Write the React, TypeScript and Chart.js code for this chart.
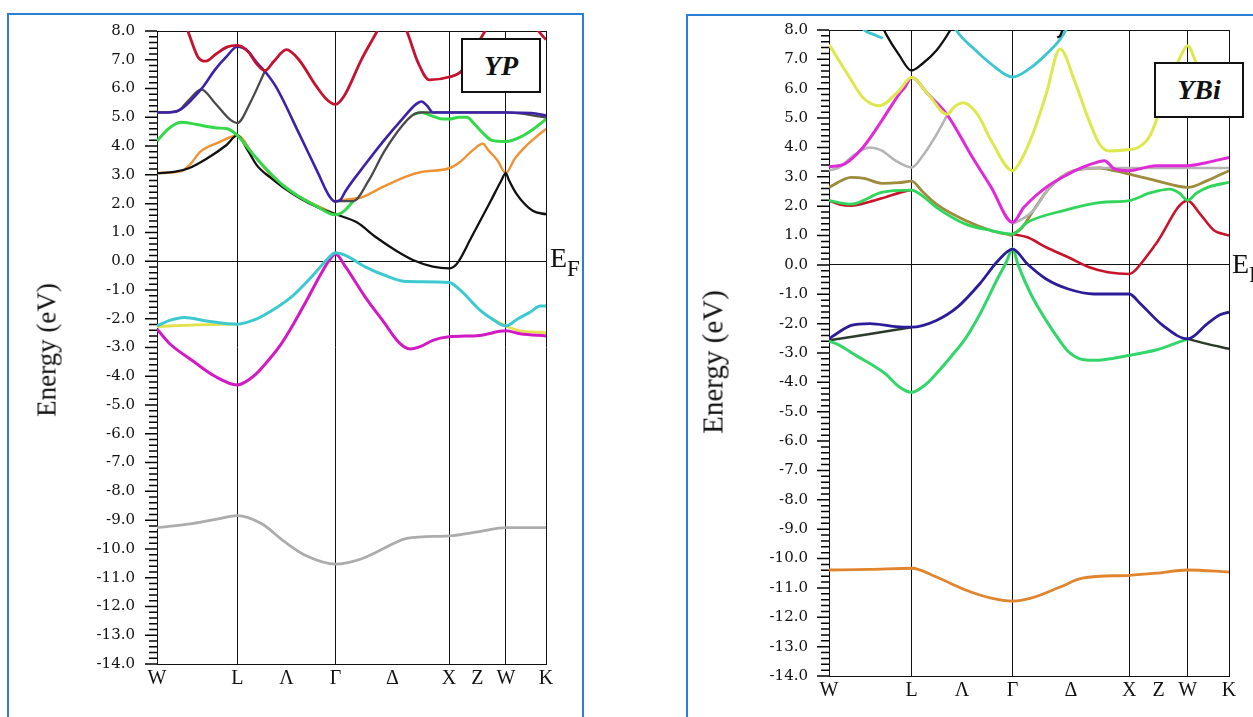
import React, { useEffect, useRef } from "react";
import { Chart, registerables } from "chart.js";

Chart.register(...registerables);

type Pt = [number, number];

// High-symmetry path of the fcc Brillouin zone (distance in 2π/a units)
const PATH_K = [0, 0.707, 1.14, 1.573, 2.073, 2.573, 2.823, 3.073, 3.427];
const PATH_LABELS = ["W", "L", "Λ", "Γ", "Δ", "X", "Z", "W", "K"];
const PATH_LINES = [0.707, 1.573, 2.573, 3.073, 3.427];
const K_MAX = 3.427;
const E_MIN = -14;
const E_MAX = 8;
// minor ticks every 0.2 eV, labelled at whole eV
const E_TICKS: number[] = [];
for (let i = E_MIN * 5; i <= E_MAX * 5; i++) E_TICKS.push(i / 5);

// ---------- YP bands (k, E in eV) ----------
const YP_LGRAY: Pt[] = [[0, -9.26], [0.31, -9.12], [0.55, -8.95], [0.707, -8.84], [0.92, -9.12], [1.12, -9.74], [1.32, -10.25], [1.573, -10.53], [1.79, -10.36], [2.0, -9.98], [2.2, -9.63], [2.573, -9.55], [2.84, -9.4], [3.073, -9.26], [3.427, -9.26]];
const YP_MAGENTA: Pt[] = [[0, -2.36], [0.11, -2.86], [0.31, -3.45], [0.51, -4.0], [0.707, -4.3], [0.85, -4.0], [0.98, -3.45], [1.09, -2.9], [1.2, -2.2], [1.32, -1.35], [1.45, -0.4], [1.53, 0.1], [1.573, 0.25], [1.66, -0.19], [1.83, -1.22], [2.0, -2.13], [2.13, -2.82], [2.23, -3.05], [2.33, -2.95], [2.43, -2.75], [2.573, -2.63], [2.84, -2.58], [3.073, -2.42], [3.2, -2.52], [3.427, -2.6]];
const YP_YELLOW_A: Pt[] = [[0, -2.27], [0.3, -2.22], [0.707, -2.19]];
const YP_YELLOW_B: Pt[] = [[2.95, -2.0], [3.073, -2.25], [3.2, -2.42], [3.3, -2.46], [3.427, -2.48]];
const YP_CYAN: Pt[] = [[0, -2.25], [0.12, -2.05], [0.24, -1.96], [0.44, -2.08], [0.707, -2.19], [0.85, -2.05], [0.98, -1.79], [1.19, -1.22], [1.39, -0.42], [1.52, 0.15], [1.573, 0.29], [1.66, 0.2], [1.83, -0.19], [2.0, -0.48], [2.2, -0.71], [2.573, -0.74], [2.67, -1.0], [2.84, -1.68], [2.95, -2.0], [3.073, -2.25], [3.18, -2.0], [3.28, -1.79], [3.38, -1.56], [3.427, -1.56]];
const YP_BLACK: Pt[] = [[0, 3.06], [0.15, 3.1], [0.28, 3.23], [0.44, 3.57], [0.61, 4.03], [0.707, 4.37], [0.8, 3.85], [0.88, 3.33], [1.0, 2.9], [1.11, 2.57], [1.26, 2.19], [1.4, 1.9], [1.573, 1.63], [1.76, 1.35], [1.93, 0.83], [2.1, 0.38], [2.26, 0.03], [2.43, -0.19], [2.573, -0.25], [2.64, -0.1], [2.77, 0.83], [2.94, 2.09], [3.03, 2.78], [3.073, 3.06], [3.1, 2.82], [3.17, 2.32], [3.31, 1.75], [3.427, 1.63]];
const YP_ORANGE_A: Pt[] = [[0, 3.06], [0.21, 3.12], [0.3, 3.4], [0.38, 3.8], [0.55, 4.14], [0.707, 4.37], [0.85, 3.7], [1.0, 3.0], [1.15, 2.5], [1.3, 2.15], [1.45, 1.85], [1.573, 1.63]];
const YP_ORANGE_B: Pt[] = [[1.573, 2.09], [1.73, 2.17], [1.79, 2.2], [2.0, 2.6], [2.2, 2.95], [2.33, 3.1], [2.573, 3.23], [2.67, 3.45], [2.78, 3.85], [2.87, 4.08], [2.92, 3.85], [3.0, 3.5], [3.073, 3.06], [3.15, 3.55], [3.25, 4.0], [3.35, 4.35], [3.427, 4.6]];
const YP_GREEN_A: Pt[] = [[0, 4.18], [0.1, 4.6], [0.21, 4.83], [0.35, 4.75], [0.53, 4.63], [0.62, 4.6], [0.707, 4.37], [0.85, 3.7], [1.0, 3.05], [1.11, 2.64], [1.25, 2.25], [1.4, 1.92], [1.573, 1.61], [1.65, 1.75], [1.73, 2.09]];
const YP_GREEN_B: Pt[] = [[2.26, 5.1], [2.33, 5.17], [2.42, 5.05], [2.5, 4.95], [2.573, 4.94], [2.66, 5.0], [2.73, 5.0], [2.8, 4.75], [2.87, 4.46], [2.95, 4.2], [3.073, 4.16], [3.22, 4.35], [3.32, 4.6], [3.427, 4.94]];
const YP_DGRAY_A: Pt[] = [[0, 5.17], [0.175, 5.2], [0.28, 5.6], [0.39, 5.97], [0.51, 5.5], [0.65, 4.9], [0.707, 4.8], [0.82, 5.5], [0.95, 6.6]];
const YP_DGRAY_B: Pt[] = [[1.573, 2.09], [1.73, 2.09], [1.86, 2.77], [2.0, 3.8], [2.16, 4.71], [2.26, 5.1], [2.33, 5.17], [2.573, 5.17], [3.073, 5.17], [3.427, 5.0]];
const YP_BLUE: Pt[] = [[0, 5.17], [0.11, 5.17], [0.21, 5.28], [0.31, 5.63], [0.41, 6.08], [0.51, 6.65], [0.61, 7.1], [0.707, 7.45], [0.8, 7.3], [0.88, 6.9], [0.95, 6.6], [1.05, 6.05], [1.25, 4.45], [1.42, 3.05], [1.52, 2.25], [1.573, 2.07], [1.62, 2.15], [1.66, 2.43], [1.83, 3.34], [2.0, 4.2], [2.16, 4.94], [2.28, 5.45], [2.33, 5.55], [2.38, 5.4], [2.43, 5.17], [2.573, 5.17], [3.073, 5.17], [3.3, 5.15], [3.427, 5.06]];
const YP_RED: Pt[] = [[0.22, 8.6], [0.29, 7.8], [0.36, 7.1], [0.43, 6.95], [0.52, 7.2], [0.62, 7.45], [0.707, 7.5], [0.8, 7.3], [0.88, 6.85], [0.95, 6.62], [1.03, 6.95], [1.14, 7.35], [1.25, 7.0], [1.4, 6.1], [1.5, 5.6], [1.573, 5.45], [1.65, 5.75], [1.8, 7.0], [1.94, 8.0], [2.07, 9.0], [2.2, 8.0], [2.3, 6.9], [2.4, 6.3], [2.573, 6.4], [2.68, 6.6], [2.8, 7.4], [2.89, 8.0], [3.1, 9.5], [3.36, 8.0], [3.427, 7.7]];

// ---------- YBi bands ----------
const YBI_ORANGE: Pt[] = [[0, -10.39], [0.35, -10.37], [0.707, -10.33], [0.92, -10.63], [1.17, -11.07], [1.39, -11.35], [1.573, -11.45], [1.73, -11.35], [1.98, -10.97], [2.17, -10.67], [2.573, -10.57], [2.8, -10.5], [3.073, -10.39], [3.427, -10.46]];
const YBI_GREEN_LOW: Pt[] = [[0, -2.6], [0.07, -2.7], [0.23, -3.08], [0.48, -3.7], [0.6, -4.15], [0.707, -4.34], [0.82, -4.1], [0.92, -3.7], [1.05, -3.1], [1.17, -2.5], [1.29, -1.7], [1.45, -0.42], [1.52, 0.1], [1.573, 0.55], [1.62, 0.0], [1.73, -1.0], [1.86, -1.89], [1.98, -2.6], [2.05, -2.95], [2.15, -3.2], [2.27, -3.25], [2.573, -3.08], [2.8, -2.9], [2.95, -2.7], [3.073, -2.52]];
const YBI_DARK_A: Pt[] = [[0, -2.57], [0.35, -2.35], [0.707, -2.12]];
const YBI_DARK_B: Pt[] = [[3.073, -2.52], [3.24, -2.69], [3.427, -2.86]];
const YBI_INDIGO: Pt[] = [[0, -2.52], [0.08, -2.3], [0.19, -2.06], [0.35, -2.0], [0.57, -2.1], [0.707, -2.12], [0.92, -1.89], [1.1, -1.44], [1.29, -0.65], [1.45, 0.15], [1.573, 0.54], [1.7, 0.03], [1.86, -0.48], [2.05, -0.82], [2.27, -0.99], [2.573, -0.99], [2.67, -1.33], [2.86, -2.06], [3.073, -2.52], [3.24, -2.01], [3.35, -1.7], [3.427, -1.61]];
const YBI_RED_A: Pt[] = [[0, 2.19], [0.1, 2.05], [0.19, 2.02], [0.35, 2.15], [0.48, 2.3], [0.67, 2.53], [0.707, 2.55]];
const YBI_RED_B: Pt[] = [[1.573, 1.05], [1.7, 0.94], [1.86, 0.6], [2.05, 0.26], [2.23, -0.08], [2.39, -0.25], [2.573, -0.31], [2.62, -0.2], [2.67, 0.03], [2.8, 0.71], [3.073, 2.19], [3.18, 1.73], [3.3, 1.17], [3.38, 1.05], [3.427, 1.0]];
const YBI_GREEN: Pt[] = [[0, 2.19], [0.19, 2.07], [0.45, 2.47], [0.707, 2.55], [0.8, 2.35], [0.92, 1.96], [1.17, 1.39], [1.39, 1.17], [1.573, 1.05], [1.7, 1.45], [2.01, 1.85], [2.33, 2.13], [2.573, 2.19], [2.75, 2.45], [2.92, 2.58], [3.0, 2.45], [3.073, 2.2], [3.15, 2.45], [3.25, 2.65], [3.427, 2.81]];
const YBI_OLIVE_A: Pt[] = [[0, 2.64], [0.19, 2.98], [0.3, 2.95], [0.45, 2.78], [0.6, 2.8], [0.707, 2.85], [0.8, 2.5], [0.92, 2.07], [1.17, 1.51], [1.39, 1.17], [1.573, 1.0]];
const YBI_OLIVE_B: Pt[] = [[1.573, 1.05], [1.65, 1.25], [1.75, 1.85], [1.89, 2.63], [2.09, 3.2], [2.32, 3.3], [2.45, 3.2], [2.573, 3.09], [2.8, 2.87], [3.073, 2.64], [3.24, 2.87], [3.427, 3.21]];
const YBI_LGRAY_A: Pt[] = [[0, 3.21], [0.1, 3.35], [0.2, 3.7], [0.35, 4.0], [0.45, 3.9], [0.57, 3.55], [0.707, 3.32], [0.8, 3.7], [0.9, 4.3], [1.01, 5.08]];
const YBI_LGRAY_B: Pt[] = [[1.573, 1.4], [1.65, 1.55], [1.75, 1.85], [1.89, 2.63], [2.09, 3.2], [2.32, 3.3], [2.573, 3.3], [3.073, 3.3], [3.427, 3.3]];
const YBI_MAGENTA: Pt[] = [[0, 3.34], [0.13, 3.43], [0.29, 4.0], [0.45, 4.9], [0.6, 5.81], [0.65, 6.05], [0.707, 6.38], [0.85, 5.81], [1.01, 5.13], [1.23, 3.66], [1.39, 2.64], [1.573, 1.45], [1.67, 1.96], [1.86, 2.64], [2.05, 3.09], [2.17, 3.32], [2.3, 3.5], [2.36, 3.55], [2.45, 3.26], [2.573, 3.21], [2.8, 3.38], [3.073, 3.38], [3.24, 3.49], [3.427, 3.66]];
const YBI_YELLOW: Pt[] = [[0, 7.51], [0.16, 6.49], [0.29, 5.7], [0.43, 5.42], [0.6, 5.93], [0.707, 6.38], [0.85, 5.81], [1.01, 5.13], [1.08, 5.4], [1.15, 5.52], [1.27, 5.14], [1.39, 4.23], [1.573, 3.21], [1.65, 3.6], [1.75, 4.5], [1.86, 5.81], [1.98, 7.35], [2.11, 6.2], [2.22, 5.0], [2.32, 4.1], [2.4, 3.88], [2.55, 3.92], [2.65, 4.0], [2.75, 4.4], [2.83, 5.2], [2.92, 6.2], [3.0, 7.0], [3.073, 7.46], [3.16, 6.75], [3.3, 6.0], [3.427, 5.6]];
const YBI_CYAN_A: Pt[] = [[0.26, 8.2], [0.3, 8.0], [0.38, 7.85], [0.46, 7.72]];
const YBI_CYAN_B: Pt[] = [[1.05, 8.3], [1.09, 7.99], [1.23, 7.4], [1.39, 6.84], [1.573, 6.4], [1.73, 6.72], [1.86, 7.17], [1.98, 7.68], [2.03, 8.0], [2.06, 8.3]];
const YBI_BLACK_A: Pt[] = [[0.46, 8.1], [0.49, 7.85], [0.6, 7.15], [0.707, 6.62], [0.8, 6.85], [0.92, 7.3], [1.04, 8.0], [1.08, 8.3]];
const YBI_BLACK_B: Pt[] = [[1.955, 7.75], [1.98, 7.8], [2.0, 8.0], [2.02, 8.3]];

type Band = { pts: Pt[]; color: string; width: number };

// listed bottom layer first
const YP_BANDS: Band[] = [
  { pts: YP_LGRAY, color: "#acacac", width: 2.8 },
  { pts: YP_YELLOW_A, color: "#e4e04a", width: 2.8 },
  { pts: YP_YELLOW_B, color: "#e4e04a", width: 2.8 },
  { pts: YP_MAGENTA, color: "#d21ac4", width: 3 },
  { pts: YP_CYAN, color: "#3cc9cf", width: 3 },
  { pts: YP_ORANGE_A, color: "#ee9333", width: 2.4 },
  { pts: YP_ORANGE_B, color: "#ee9333", width: 2.4 },
  { pts: YP_BLACK, color: "#111111", width: 2.3 },
  { pts: YP_GREEN_A, color: "#33d94a", width: 3 },
  { pts: YP_GREEN_B, color: "#33d94a", width: 3 },
  { pts: YP_DGRAY_A, color: "#4a4a4a", width: 2.3 },
  { pts: YP_DGRAY_B, color: "#4a4a4a", width: 2.3 },
  { pts: YP_BLUE, color: "#3d22a8", width: 2.6 },
  { pts: YP_RED, color: "#c4122f", width: 2.8 },
];

const YBI_BANDS: Band[] = [
  { pts: YBI_ORANGE, color: "#e0852e", width: 2.8 },
  { pts: YBI_DARK_A, color: "#2c3a2c", width: 2.5 },
  { pts: YBI_DARK_B, color: "#2c3a2c", width: 2.5 },
  { pts: YBI_GREEN_LOW, color: "#33d66a", width: 3 },
  { pts: YBI_INDIGO, color: "#2c1c98", width: 2.8 },
  { pts: YBI_RED_A, color: "#c8142a", width: 2.6 },
  { pts: YBI_RED_B, color: "#c8142a", width: 2.6 },
  { pts: YBI_OLIVE_A, color: "#9c8c3c", width: 2.8 },
  { pts: YBI_OLIVE_B, color: "#9c8c3c", width: 2.8 },
  { pts: YBI_GREEN, color: "#2fd65a", width: 2.8 },
  { pts: YBI_LGRAY_A, color: "#b4b4b4", width: 2.6 },
  { pts: YBI_LGRAY_B, color: "#b4b4b4", width: 2.6 },
  { pts: YBI_MAGENTA, color: "#e02ad8", width: 3 },
  { pts: YBI_YELLOW, color: "#dce84e", width: 3 },
  { pts: YBI_CYAN_A, color: "#3ec6cf", width: 2.8 },
  { pts: YBI_CYAN_B, color: "#3ec6cf", width: 2.8 },
  { pts: YBI_BLACK_A, color: "#111111", width: 2.3 },
  { pts: YBI_BLACK_B, color: "#111111", width: 2.3 },
];

// tick marks on the energy axis: short every 0.2 eV, longer at every whole eV
const energyTicks = {
  id: "energyTicks",
  afterDatasetsDraw(chart: any) {
    const y = chart.scales.y;
    const left = chart.chartArea.left;
    const ctx = chart.ctx;
    ctx.save();
    ctx.strokeStyle = "#000";
    ctx.lineWidth = 1.5;
    ctx.beginPath();
    E_TICKS.forEach((e) => {
      const major = Math.abs(e - Math.round(e)) < 1e-9;
      const len = major ? 12 : 8;
      const py = y.getPixelForValue(e);
      ctx.moveTo(left - len, py);
      ctx.lineTo(left, py);
    });
    ctx.stroke();
    ctx.restore();
  },
};

type ChartProps = {
  bands: Band[];
  left: number;
  width: number;
  height: number;
  yAxisWidth: number;
  padTop: number;
  padRight: number;
  xAxisHeight: number;
  yLabelPad: number;
  xLabelPad: number;
};

function BandChart(p: ChartProps) {
  const ref = useRef<HTMLCanvasElement>(null);
  useEffect(() => {
    const datasets = p.bands
      .slice()
      .reverse()
      .map((b) => ({
        data: b.pts.map(([x, y]) => ({ x, y })),
        borderColor: b.color,
        borderWidth: b.width,
        pointRadius: 0,
        fill: false,
        cubicInterpolationMode: "monotone" as const,
        clip: 0,
      }));
    const chart = new Chart(ref.current!, {
      type: "line",
      data: { datasets },
      options: {
        animation: false,
        responsive: false,
        events: [],
        layout: { padding: { top: p.padTop, right: p.padRight, left: 0, bottom: 0 } },
        plugins: { legend: { display: false }, tooltip: { enabled: false } },
        scales: {
          x: {
            type: "linear",
            min: 0,
            max: K_MAX,
            afterBuildTicks: (s: any) => {
              s.ticks = PATH_K.map((v) => ({ value: v }));
            },
            afterFit: (s: any) => {
              s.height = p.xAxisHeight;
            },
            ticks: {
              autoSkip: false,
              maxRotation: 0,
              padding: p.xLabelPad,
              color: "#111",
              font: { family: "Liberation Serif", size: 20 },
              callback: (_v: any, i: number) => PATH_LABELS[i],
            },
            grid: {
              drawTicks: false,
              lineWidth: 1,
              color: (c: any) =>
                c.tick && PATH_LINES.includes(c.tick.value) ? "#111" : "rgba(0,0,0,0)",
            },
            border: { color: "#111", width: 1 },
          },
          y: {
            type: "linear",
            min: E_MIN,
            max: E_MAX,
            afterBuildTicks: (s: any) => {
              s.ticks = E_TICKS.map((v) => ({ value: v }));
            },
            afterFit: (s: any) => {
              s.width = p.yAxisWidth;
            },
            ticks: {
              autoSkip: false,
              padding: p.yLabelPad,
              color: "#111",
              font: { family: "DejaVu Serif", size: 15 },
              callback: (v: any) => (Number.isInteger(v) ? Number(v).toFixed(1) : ""),
            },
            grid: {
              drawTicks: false,
              lineWidth: 1,
              color: (c: any) =>
                c.tick && (c.tick.value === 0 || c.tick.value === E_MAX) ? "#111" : "rgba(0,0,0,0)",
            },
            border: { color: "#111", width: 1 },
          },
        },
      },
      plugins: [energyTicks],
    });
    return () => chart.destroy();
  }, []);
  return (
    <canvas
      ref={ref}
      width={p.width}
      height={p.height}
      style={{ position: "absolute", left: p.left, top: 0, width: p.width, height: p.height }}
    />
  );
}

const serif = "'Liberation Serif', 'Times New Roman', serif";

function AxisTitle({ cx, cy, size }: { cx: number; cy: number; size: number }) {
  return (
    <div
      style={{
        position: "absolute",
        left: cx,
        top: cy,
        transform: "translate(-50%, -50%) rotate(-90deg)",
        whiteSpace: "nowrap",
        fontFamily: serif,
        fontSize: size,
        color: "#111",
        lineHeight: 1,
      }}
    >
      Energy (eV)
    </div>
  );
}

function FermiLabel({ x, y }: { x: number; y: number }) {
  return (
    <div style={{ position: "absolute", left: x, top: y, fontFamily: serif, color: "#111", lineHeight: 1, whiteSpace: "nowrap" }}>
      <span style={{ fontSize: 28 }}>E</span>
      <span style={{ fontSize: 23, position: "relative", top: 9 }}>F</span>
    </div>
  );
}

function NameBox({ x, y, w, h, text }: { x: number; y: number; w: number; h: number; text: string }) {
  return (
    <div
      style={{
        position: "absolute",
        left: x,
        top: y,
        width: w,
        height: h,
        boxSizing: "border-box",
        border: "2px solid #111",
        background: "#fff",
        display: "flex",
        alignItems: "center",
        justifyContent: "center",
        fontFamily: serif,
        fontWeight: "bold",
        fontStyle: "italic",
        fontSize: 28,
        color: "#111",
      }}
    >
      {text}
    </div>
  );
}

export default function App() {
  return (
    <div
      style={{
        position: "fixed",
        left: 0,
        top: 0,
        width: 1253,
        height: 717,
        overflow: "hidden",
        background: "#fff",
      }}
    >
      <div style={{ position: "absolute", left: 7, top: 13, width: 577, height: 800, boxSizing: "border-box", border: "2px solid #2a7fd6" }} />
      <div style={{ position: "absolute", left: 686, top: 14, width: 700, height: 800, boxSizing: "border-box", border: "2px solid #2a7fd6" }} />

      <BandChart bands={YP_BANDS} left={0} width={600} height={717} yAxisWidth={157} padTop={24} padRight={54} xAxisHeight={53} yLabelPad={22} xLabelPad={3} />
      <BandChart bands={YBI_BANDS} left={680} width={573} height={717} yAxisWidth={149} padTop={29} padRight={24} xAxisHeight={41} yLabelPad={21} xLabelPad={3} />

      <AxisTitle cx={47} cy={350} size={27} />
      <AxisTitle cx={713} cy={362} size={29} />

      <FermiLabel x={550} y={244} />
      <FermiLabel x={1232} y={250} />

      <NameBox x={461} y={38} w={80} h={55} text="YP" />
      <NameBox x={1154} y={62} w={90} h={56} text="YBi" />
    </div>
  );
}
